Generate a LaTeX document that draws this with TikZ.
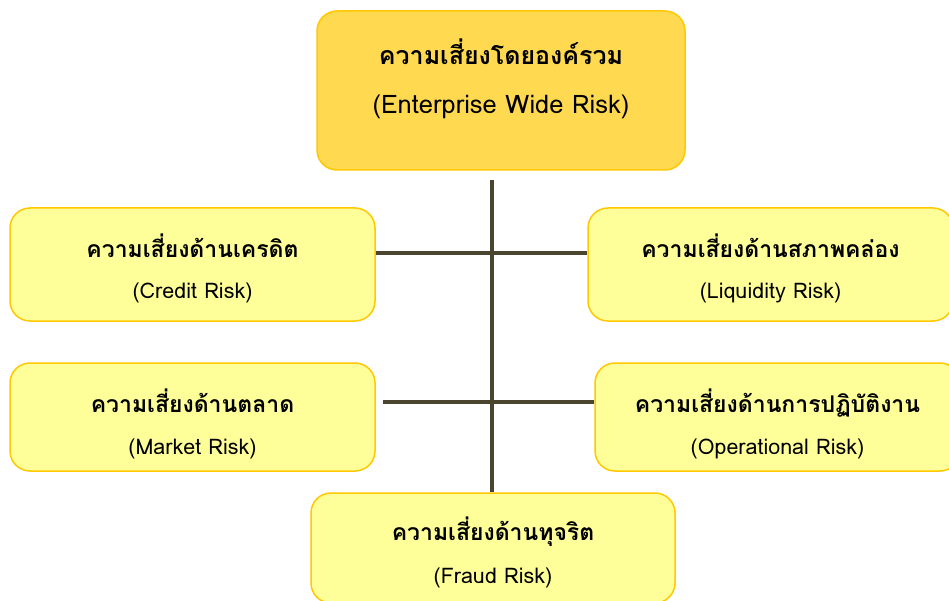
\documentclass[tikz,border=0pt]{standalone}
\usepackage{fontspec}
\newfontfamily\thaifont[Script=Thai]{Loma}
\definecolor{goldfill}{HTML}{FFD94F}
\definecolor{palefill}{HTML}{FFFF99}
\definecolor{boxedge}{HTML}{FFC800}
\definecolor{linkcol}{HTML}{4B4530}

\begin{document}
\begin{tikzpicture}[x=1pt,y=-1pt,
        riskbox/.style={draw=boxedge, line width=1.5pt, fill=palefill, rounded corners=20pt,
          minimum width=365pt, minimum height=113pt, inner sep=0pt},
        thaitext/.style={anchor=base, inner sep=0pt, font=\thaifont\bfseries\fontsize{23}{27}\selectfont},
        engtext/.style={anchor=base, inner sep=0pt, font=\thaifont\fontsize{21.5}{25}\selectfont},
        link/.style={draw=linkcol, line width=4pt}]
        \useasboundingbox (0,0) rectangle (949,601);
        % boxes
        \node [riskbox, fill=goldfill, minimum width=368pt, minimum height=159pt] (enterprise) at (501,90.5) {};
        \node [riskbox] (credit) at (192.5,264.5) {};
        \node [riskbox] (liquidity) at (770.5,264.5) {};
        \node [riskbox, minimum height=108pt] (market) at (192.5,417) {};
        \node [riskbox, minimum height=108pt] (operational) at (777.5,417) {};
        \node [riskbox, minimum width=364pt, minimum height=110pt] (fraud) at (493,548) {};
        % texts
        \node [thaitext, font=\thaifont\bfseries\fontsize{25}{29}\selectfont] (enterprise-th) at ([yshift=-54]enterprise.north) {ความเสี่ยงโดยองค์รวม};
        \node [engtext, font=\thaifont\fontsize{25.5}{29}\selectfont] (enterprise-en) at ([yshift=-103]enterprise.north) {(Enterprise Wide Risk)};
        \node [thaitext] (credit-th) at ([yshift=-50]credit.north) {ความเสี่ยงด้านเครดิต};
        \node [engtext] (credit-en) at ([yshift=-91]credit.north) {(Credit Risk)};
        \node [thaitext] (liquidity-th) at ([yshift=-50]liquidity.north) {ความเสี่ยงด้านสภาพคล่อง};
        \node [engtext] (liquidity-en) at ([yshift=-91]liquidity.north) {(Liquidity Risk)};
        \node [thaitext] (market-th) at ([yshift=-50]market.north) {ความเสี่ยงด้านตลาด};
        \node [engtext] (market-en) at ([yshift=-92]market.north) {(Market Risk)};
        \node [thaitext] (operational-th) at ([yshift=-50]operational.north) {ความเสี่ยงด้านการปฏิบัติงาน};
        \node [engtext] (operational-en) at ([yshift=-92]operational.north) {(Operational Risk)};
        \node [thaitext] (fraud-th) at ([yshift=-48]fraud.north) {ความเสี่ยงด้านทุจริต};
        \node [engtext] (fraud-en) at ([yshift=-91]fraud.north) {(Fraud Risk)};
        % links
        \coordinate (j1) at (492,253);
        \coordinate (j2) at (492,402);
        \draw [link] ([yshift=-9]enterprise.south -| j1) -- (fraud.north -| j1);
        \draw [link] (credit.east |- j1) -- (liquidity.west |- j1);
        \draw [link] ([xshift=7]market.east |- j2) -- (operational.west |- j2);
\end{tikzpicture}
\end{document}
